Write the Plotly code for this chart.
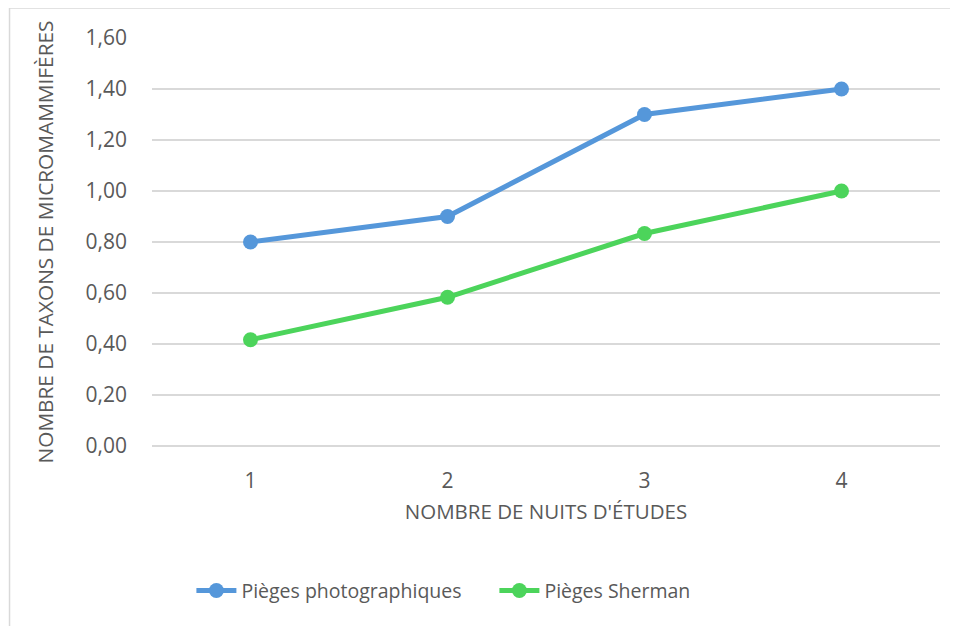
import plotly.graph_objects as go

# Données du graphique
nuits = ["1", "2", "3", "4"]
pieges_photo = [0.80, 0.90, 1.30, 1.40]
pieges_sherman = [0.4167, 0.5833, 0.8333, 1.00]
y_ticks = [0.0, 0.2, 0.4, 0.6, 0.8, 1.0, 1.2, 1.4, 1.6]
y_tick_labels = ["0,00", "0,20", "0,40", "0,60", "0,80", "1,00", "1,20", "1,40", "1,60"]

font_family = "Open Sans"
gray_text = "#595959"

fig = go.Figure()

fig.add_trace(go.Scatter(
    x=nuits, y=pieges_photo,
    mode="lines+markers",
    name="Pièges photographiques",
    line=dict(color="#5597DA", width=5),
    marker=dict(color="#5597DA", size=15),
))

fig.add_trace(go.Scatter(
    x=nuits, y=pieges_sherman,
    mode="lines+markers",
    name="Pièges Sherman",
    line=dict(color="#4CD45B", width=5),
    marker=dict(color="#4CD45B", size=15),
))

# Cadre du graphique (visible en haut et à gauche)
fig.add_shape(
    type="rect", xref="paper", yref="paper",
    x0=-0.1808, x1=1.2, y0=-0.6, y1=1.0735,
    line=dict(color="#D9D9D9", width=1.5),
    layer="below",
)

fig.update_layout(
    width=950, height=618,
    margin=dict(l=144, r=18, t=30, b=180),
    paper_bgcolor="white",
    plot_bgcolor="white",
    font=dict(family=font_family, color=gray_text, size=19),
    showlegend=True,
    legend=dict(
        orientation="h",
        x=0.05, xanchor="left",
        y=-0.355, yanchor="middle",
        font=dict(size=19.5, color=gray_text),
        itemwidth=40,
        entrywidth=248,
        tracegroupgap=0,
    ),
    xaxis=dict(
        type="category",
        range=[-0.5, 3.5],
        showgrid=False,
        showline=False,
        zeroline=False,
        ticks="",
        ticklabelstandoff=20,
        tickfont=dict(size=21, color=gray_text),
        title=dict(text="NOMBRE DE NUITS D'ÉTUDES",
                   font=dict(size=20.5, color=gray_text), standoff=11),
    ),
    yaxis=dict(
        range=[0, 1.6],
        tickvals=y_ticks,
        ticktext=y_tick_labels,
        showgrid=True,
        gridcolor="#D9D9D9",
        gridwidth=1.5,
        zeroline=True,
        zerolinecolor="#D9D9D9",
        zerolinewidth=1.5,
        showline=False,
        ticks="",
        ticklabelstandoff=24,
        tickfont=dict(size=21, color=gray_text),
        title=dict(text="NOMBRE DE TAXONS DE MICROMAMMIFÈRES",
                   font=dict(size=20.8, color=gray_text), standoff=26),
    ),
)

fig.write_html("out.html")
